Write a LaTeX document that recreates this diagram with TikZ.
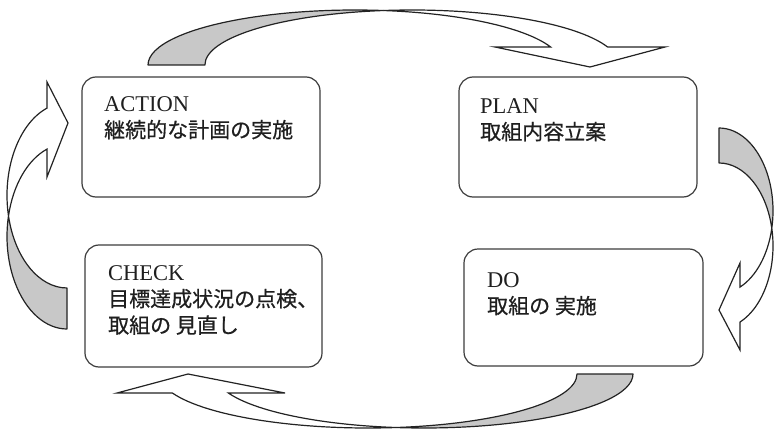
\documentclass[tikz,border=0pt]{standalone}
\usepackage{fontspec}
\setmainfont{Liberation Serif}
\newfontfamily\jp[FakeBold=0.6]{Noto Sans CJK JP}
\usetikzlibrary{calc}
\definecolor{arrgray}{RGB}{200,200,200}
\definecolor{edgecol}{RGB}{35,35,35}
\definecolor{boxcol}{RGB}{60,60,60}
\begin{document}
\begin{tikzpicture}[x=1pt,y=1pt,
  stagebox/.style={draw=boxcol, line width=1.2pt, rounded corners=14pt, inner sep=0pt},
  stagetext/.style={anchor=north west, inner sep=0pt, align=left, text=black!88,
    font=\fontsize{22.5}{26.5}\selectfont},
  jptext/.style={},
  backpart/.style={draw=edgecol, fill=arrgray, line width=1.2pt, line join=round},
  frontpart/.style={draw=edgecol, fill=white, line width=1.2pt, line join=miter}]
\useasboundingbox (0,0) rectangle (775,429);

% boxes
\node[stagebox, minimum width=238pt, minimum height=120pt] (act) at (201,292) {};
\node[stagebox, minimum width=238pt, minimum height=120pt] (plan) at (578,292) {};
\node[stagebox, minimum width=237pt, minimum height=122pt] (chk) at (203.5,123) {};
\node[stagebox, minimum width=239pt, minimum height=117pt] (do) at (583.5,121.5) {};

% texts
\node[stagetext] (actt) at (104,333) {ACTION\\{\fontsize{21}{26.5}\jp 継続的な計画の実施}};
\node[stagetext] (plant) at (480,331) {PLAN\\{\fontsize{21}{26.5}\jp 取組内容立案}};
\node[stagetext] (chkt) at (108,164) {CHECK\\{\fontsize{21}{26.5}\jp 目標達成状況の点検、}\\{\fontsize{21}{26.5}\jp 取組の 見直し}};
\node[stagetext] (dot) at (487,157) {DO\\{\fontsize{21}{26.5}\jp 取組の 実施}};

% top arrow (ACTION -> PLAN)
\coordinate (ta) at (355,364);
\coordinate (tb) at (412,364);
\path[backpart] ($(ta)+(180:207pt and 55pt)$)
  arc[start angle=180, end angle=82.1, x radius=207pt, y radius=55pt]
  arc[start angle=97.9, end angle=180, x radius=207pt, y radius=55pt] -- cycle;
\path[frontpart] ($(tb)+(97.9:207pt and 55pt)$)
  arc[start angle=97.9, end angle=19.1, x radius=207pt, y radius=55pt]
  -- (665,382) -- (590,362) -- (495,382)
  -- ($(ta)+(19.1:207pt and 55pt)$)
  arc[start angle=19.1, end angle=82.1, x radius=207pt, y radius=55pt] -- cycle;

% right arrow (PLAN -> DO)
\coordinate (ra) at (719,218.2);
\coordinate (rb) at (719,183.2);
\path[backpart] ($(ra)+(90:54pt and 82.8pt)$)
  arc[start angle=90, end angle=-12.2, x radius=54pt, y radius=82.8pt]
  arc[start angle=12.2, end angle=90, x radius=54pt, y radius=82.8pt] -- cycle;
\path[frontpart] ($(rb)+(12.2:54pt and 82.8pt)$)
  arc[start angle=12.2, end angle=-67.1, x radius=54pt, y radius=82.8pt]
  -- (740,79) -- (719,119) -- (740,166)
  -- ($(ra)+(-67.1:54pt and 82.8pt)$)
  arc[start angle=-67.1, end angle=-12.2, x radius=54pt, y radius=82.8pt] -- cycle;

% bottom arrow (DO -> CHECK)
\coordinate (ba) at (368,55);
\coordinate (bb) at (424,55);
\path[backpart] ($(bb)+(0:209pt and 54pt)$)
  arc[start angle=0, end angle=-97.7, x radius=209pt, y radius=54pt]
  arc[start angle=-82.3, end angle=0, x radius=209pt, y radius=54pt] -- cycle;
\path[frontpart] ($(ba)+(-82.3:209pt and 54pt)$)
  arc[start angle=-82.3, end angle=-159.4, x radius=209pt, y radius=54pt]
  -- (117,36) -- (188,55) -- (285,36)
  -- ($(bb)+(-159.4:209pt and 54pt)$)
  arc[start angle=-159.4, end angle=-97.7, x radius=209pt, y radius=54pt] -- cycle;

% left arrow (CHECK -> ACTION)
\coordinate (la) at (67,233.6);
\coordinate (lb) at (67,192.6);
\path[backpart] ($(lb)+(270:60pt and 92.6pt)$)
  arc[start angle=270, end angle=167.2, x radius=60pt, y radius=92.6pt]
  arc[start angle=192.8, end angle=270, x radius=60pt, y radius=92.6pt] -- cycle;
\path[frontpart] ($(la)+(192.8:60pt and 92.6pt)$)
  arc[start angle=192.8, end angle=109.5, x radius=60pt, y radius=92.6pt]
  -- (47,347) -- (68,306) -- (47,252)
  -- ($(lb)+(109.5:60pt and 92.6pt)$)
  arc[start angle=109.5, end angle=167.2, x radius=60pt, y radius=92.6pt] -- cycle;
\end{tikzpicture}
\end{document}
